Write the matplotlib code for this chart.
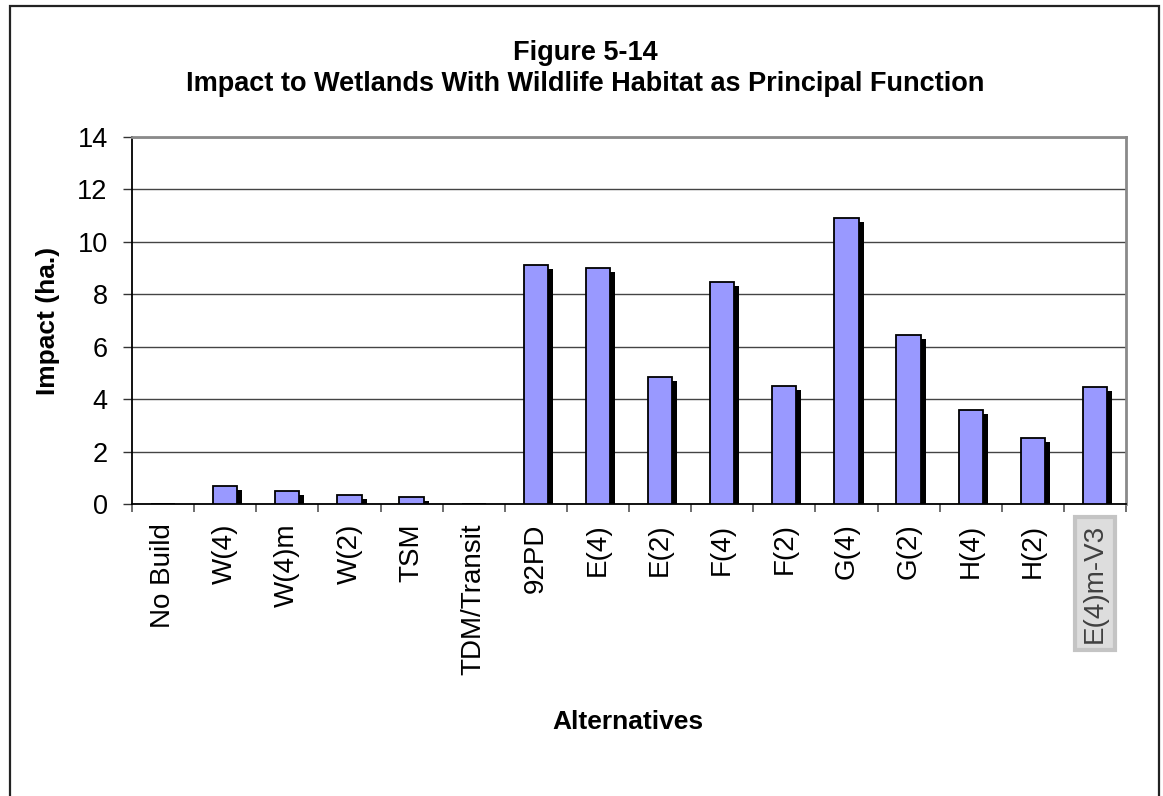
import numpy as np
import matplotlib
matplotlib.use('Agg')
import matplotlib.pyplot as plt
from matplotlib.patches import Rectangle

alternatives = ['No Build', 'W(4)', 'W(4)m', 'W(2)', 'TSM', 'TDM/Transit', '92PD',
                'E(4)', 'E(2)', 'F(4)', 'F(2)', 'G(4)', 'G(2)', 'H(4)', 'H(2)', 'E(4)m-V3']
impact = [0, 0.7, 0.5, 0.35, 0.28, 0, 9.1, 9.0, 4.85, 8.45, 4.5, 10.9, 6.45, 3.6, 2.5, 4.45]
yticks = [0, 2, 4, 6, 8, 10, 12, 14]

plt.rcParams['font.family'] = ['Liberation Sans', 'DejaVu Sans']

fig = plt.figure(figsize=(11.63, 7.96), dpi=100)
ax = fig.add_axes([132/1163, 1 - 504/796, (1126 - 132)/1163, (504 - 137)/796])

x = np.arange(len(alternatives))
vals = np.array(impact)
bw = 0.39

# shadow behind each bar (offset right / down)
shadow = np.clip(vals - 0.15, 0, None)
ax.bar(x + 0.08, shadow, width=bw, color='black', zorder=2)
ax.bar(x, vals, width=bw, color='#9999ff', edgecolor='black', linewidth=1.3, zorder=3)

ax.set_xlim(-0.5, len(alternatives) - 0.5)
ax.set_ylim(0, 14)
ax.set_yticks(yticks)
ax.set_yticklabels([str(t) for t in yticks], fontsize=19.5)
ax.yaxis.grid(True, color='#444444', linewidth=1)
ax.set_axisbelow(True)

ax.set_xticks(x)
ax.set_xticklabels(alternatives, rotation=90, fontsize=20, va='top')
ax.set_xticks(np.arange(-0.5, len(alternatives)), minor=True)
ax.tick_params(axis='x', which='major', length=0, pad=14)
ax.tick_params(axis='x', which='minor', length=6, color='#555555', width=1.2)
ax.tick_params(axis='y', length=6.5, pad=11, color='#333333', width=1)

for s in ['left', 'bottom']:
    ax.spines[s].set_color('black')
    ax.spines[s].set_linewidth(1.3)
for s in ['top', 'right']:
    ax.spines[s].set_color('#8a8a8a')
    ax.spines[s].set_linewidth(2)

# last label shown inside a grey box
last = ax.get_xticklabels()[-1]
last.set_color('#404040')
last.set_bbox(dict(boxstyle='square,pad=0.25', facecolor='#dddddd', edgecolor='#c4c4c4', linewidth=3))

fig.text(0.503, 1 - 60/796, 'Figure 5-14', ha='center', va='baseline', fontsize=19.5, fontweight='bold')
fig.text(0.503, 1 - 91/796, 'Impact to Wetlands With Wildlife Habitat as Principal Function',
         ha='center', va='baseline', fontsize=19.5, fontweight='bold')
fig.text(48/1163, 1 - 321/796, 'Impact (ha.)', rotation=90, ha='center', va='center',
         fontsize=19, fontweight='bold')
fig.text(628/1163, 1 - 722/796, 'Alternatives', ha='center', va='center', fontsize=19, fontweight='bold')

# outer chart border (open at the bottom)
fig.patches.append(Rectangle((10/1163, -0.02), (1159 - 10)/1163, 1.02 - 6/796,
                             transform=fig.transFigure, fill=False, edgecolor='#222222',
                             linewidth=1.6))

fig.savefig('out.png', dpi=100)
